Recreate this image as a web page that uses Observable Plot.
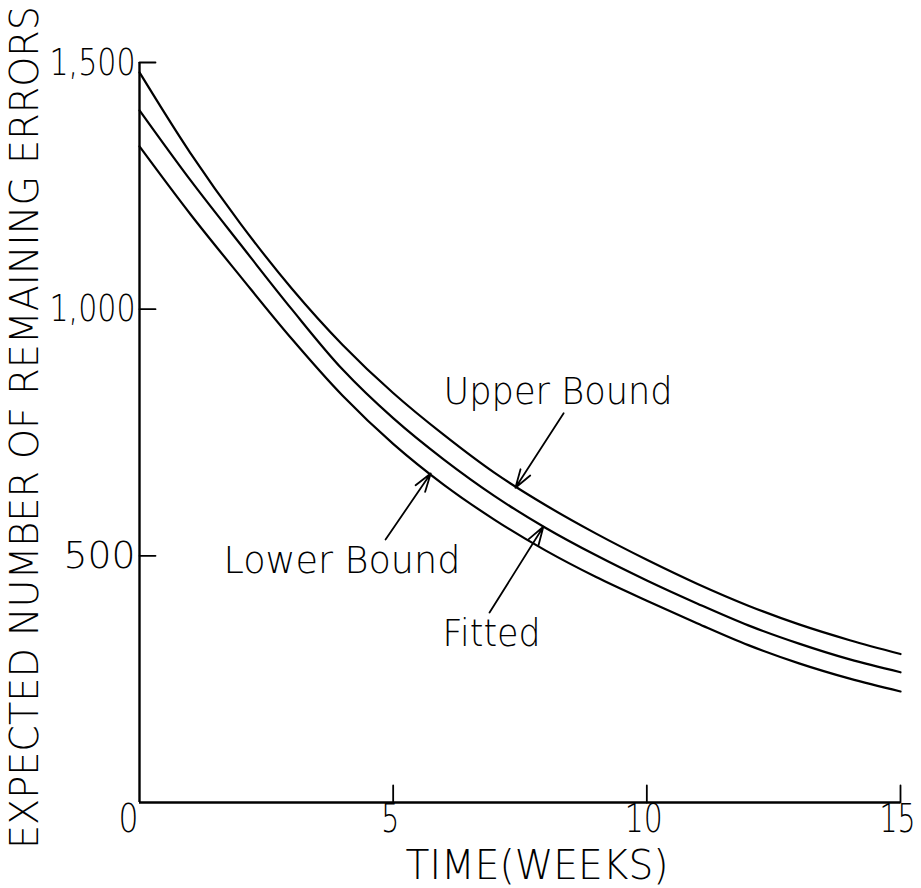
<!DOCTYPE html>
<html>
<head>
<meta charset="utf-8">
<script src="https://cdn.jsdelivr.net/npm/d3@7"></script>
<script src="https://cdn.jsdelivr.net/npm/@observablehq/plot@0.6"></script>
<style>
  html, body { margin: 0; padding: 0; background: #fff; }
  #chart svg { display: block; }
</style>
</head>
<body>
<div id="chart"></div>
<script>
// ---- data ----
const weeks  = [0, 1, 2, 3, 4, 5, 6, 7, 8, 9, 10, 11, 12, 13, 14, 15];
const upper  = [1480, 1317, 1172, 1042, 928, 830, 745, 668, 603, 545, 492, 443, 399, 361, 329, 301];
const fitted = [1403, 1262, 1130, 1000, 878, 779, 695, 621, 557, 501, 450, 403, 359, 322, 290, 264];
const lower  = [1330, 1193, 1065, 940, 825, 727, 644, 573, 511, 457, 409, 363, 319, 282, 251, 225];

const xTicks = [5, 10, 15];
const xZeroLabel = [0];
const yTicks = [500, 1000, 1500];

const xLabel = "TIME(WEEKS)";
const yLabel = "EXPECTED NUMBER OF REMAINING ERRORS";

// annotations (data coordinates)
const annoText  = ["Upper Bound", "Lower Bound", "Fitted"];
const annoTextX = [8.25, 3.99, 6.94];
const annoTextY = [832, 490, 341];
const arrowX1 = [8.36, 4.85, 6.90];
const arrowY1 = [789, 533, 385];
const arrowX2 = [7.41, 5.74, 7.96];
const arrowY2 = [638, 667, 559];

// ---- build tables ----
const series = [
  {name: "Upper Bound", values: upper},
  {name: "Fitted", values: fitted},
  {name: "Lower Bound", values: lower}
];
const lineData = series.flatMap(s => weeks.map((w, i) => ({series: s.name, week: w, value: s.values[i]})));
const labels = annoText.map((t, i) => ({text: t, x: annoTextX[i], y: annoTextY[i]}));
const arrows = arrowX1.map((x, i) => ({x1: x, y1: arrowY1[i], x2: arrowX2[i], y2: arrowY2[i]}));

const FONT = "DejaVu Sans, sans-serif";

const chart = Plot.plot({
  width: 921,
  height: 888,
  marginLeft: 139,
  marginRight: 21,
  marginTop: 62,
  marginBottom: 86,
  style: {fontFamily: FONT, color: "#000", background: "#fff"},
  x: {domain: [0, 15], axis: null},
  y: {domain: [0, 1500], axis: null},
  marks: [
    // axis lines
    Plot.ruleX([0], {stroke: "#000", strokeWidth: 2.4}),
    Plot.ruleY([0], {stroke: "#000", strokeWidth: 2.4}),
    // inward ticks
    Plot.vector(xTicks, {x: d => d, y: 0, length: 17, r: 0, rotate: 0, anchor: "start", stroke: "#000", strokeWidth: 1.8}),
    Plot.vector(yTicks, {x: 0, y: d => d, length: 16, r: 0, rotate: 90, anchor: "start", stroke: "#000", strokeWidth: 1.8}),
    // tick labels
    Plot.text(xTicks, {x: d => d, y: 0, text: d => String(d), lineAnchor: "top", dy: 2, dx: -3, fontSize: 39, fontWeight: 200, fill: "#000"}),
    Plot.text(xZeroLabel, {x: d => d, y: 0, text: d => String(d), lineAnchor: "top", textAnchor: "end", dy: 2, dx: -1, fontSize: 39, fontWeight: 200, fill: "#000"}),
    Plot.text(yTicks, {x: 0, y: d => d, text: d => d3.format(",")(d), textAnchor: "end", dx: -4, fontSize: 38, fontWeight: 200, fill: "#000"}),
    // axis titles
    Plot.text([xLabel], {frameAnchor: "bottom", text: d => d, textAnchor: "middle", lineAnchor: "middle", dx: 17, dy: 64, fontSize: 40, fontWeight: 200, fill: "#000"}),
    Plot.text([yLabel], {frameAnchor: "left", text: d => d, textAnchor: "middle", lineAnchor: "middle", rotate: -90, dx: -114, dy: -5, fontSize: 39, fontWeight: 200, fill: "#000"}),
    // curves
    Plot.line(lineData, {x: "week", y: "value", z: "series", curve: "catmull-rom", stroke: "#000", strokeWidth: 2.2}),
    // annotations
    Plot.arrow(arrows, {x1: "x1", y1: "y1", x2: "x2", y2: "y2", stroke: "#000", strokeWidth: 1.8, headLength: 16, headAngle: 35, bend: 0}),
    Plot.text(labels, {x: "x", y: "y", text: "text", fontSize: 37, fontWeight: 200, fill: "#000"})
  ]
});

// condense lettering to the widths of the reference's plotter lettering
const targetWidth = {
  "EXPECTED NUMBER OF REMAINING ERRORS": 843,
  "TIME(WEEKS)": 263,
  "1,500": 86, "1,000": 86, "500": 72,
  "0": 20, "5": 18, "10": 38, "15": 36,
  "Upper Bound": 229, "Lower Bound": 237, "Fitted": 98
};
chart.querySelectorAll("text").forEach(t => {
  const w = targetWidth[t.textContent];
  if (w) {
    t.setAttribute("textLength", w);
    t.setAttribute("lengthAdjust", "spacingAndGlyphs");
  }
});
document.getElementById("chart").appendChild(chart);
</script>
</body>
</html>
